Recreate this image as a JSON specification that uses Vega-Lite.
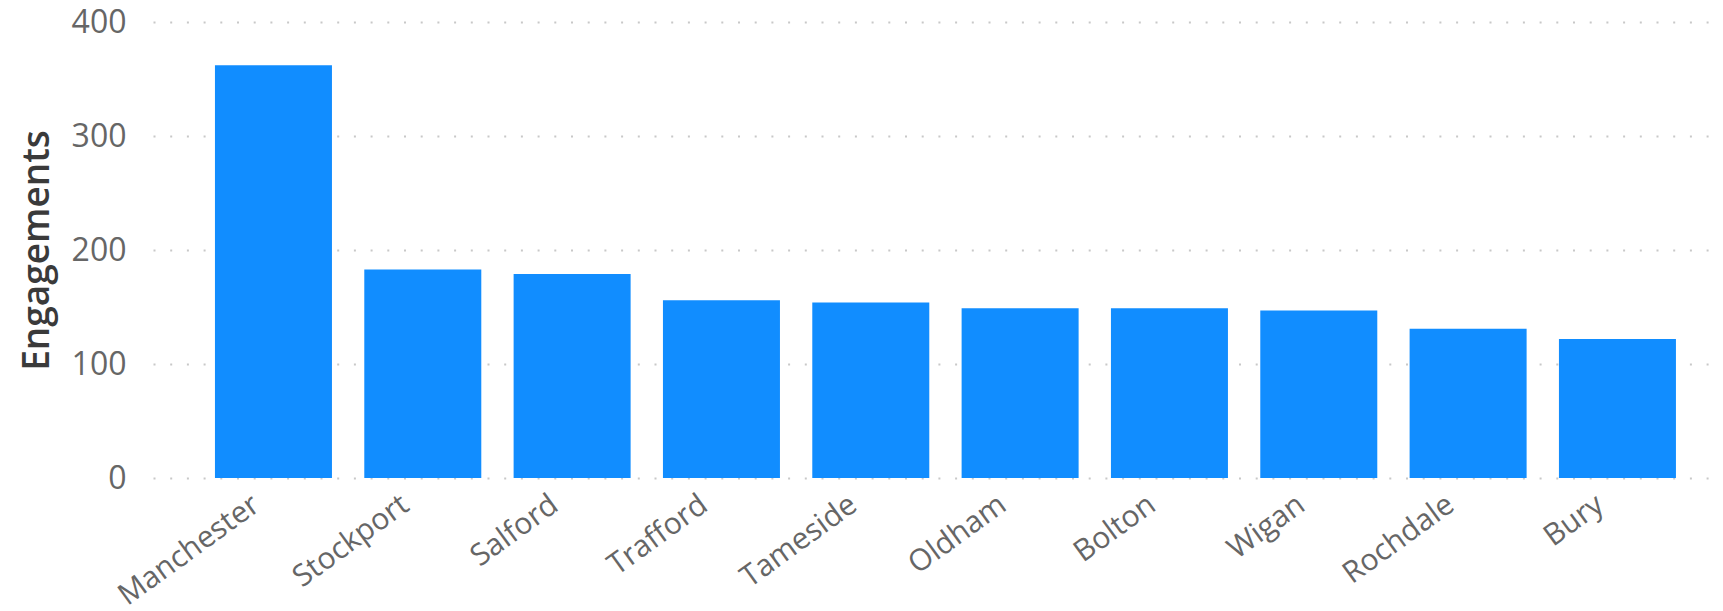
{
  "$schema": "https://vega.github.io/schema/vega-lite/v6.json",
  "autosize": {"type": "none"},
  "padding": {"left": 153, "top": 22, "right": 4, "bottom": 133},
  "width": 1566,
  "height": 456,
  "background": "#ffffff",
  "data": {"values": [
    {"area": "Manchester", "engagements": 362},
    {"area": "Stockport", "engagements": 183},
    {"area": "Salford", "engagements": 179},
    {"area": "Trafford", "engagements": 156},
    {"area": "Tameside", "engagements": 154},
    {"area": "Oldham", "engagements": 149},
    {"area": "Bolton", "engagements": 149},
    {"area": "Wigan", "engagements": 147},
    {"area": "Rochdale", "engagements": 131},
    {"area": "Bury", "engagements": 122}
  ]},
  "mark": {"type": "bar", "color": "#118DFF"},
  "encoding": {
    "x": {
      "field": "area", "type": "nominal", "sort": null,
      "scale": {"paddingInner": 0.2165, "paddingOuter": 0.3516, "align": 0.59},
      "axis": {
        "title": null, "labelAngle": -36, "domain": false, "ticks": false,
        "labelFont": "Open Sans", "labelFontSize": 30, "labelColor": "#666666",
        "labelPadding": 11, "labelOffset": -26, "grid": false
      }
    },
    "y": {
      "field": "engagements", "type": "quantitative",
      "scale": {"domain": [0, 400], "nice": false},
      "axis": {
        "title": "Engagements", "values": [0, 100, 200, 300, 400],
        "domain": false, "ticks": false,
        "labelFont": "Open Sans", "labelFontSize": 32, "labelColor": "#666666",
        "labelPadding": 27,
        "titleFont": "Open Sans", "titleFontSize": 37, "titleFontWeight": 600,
        "titleColor": "#3a3a3a", "titlePadding": 15,
        "grid": true, "gridColor": "#c8c8c8", "gridDash": [2, 14.7], "gridWidth": 2
      }
    }
  },
  "config": {"view": {"stroke": null}}
}
